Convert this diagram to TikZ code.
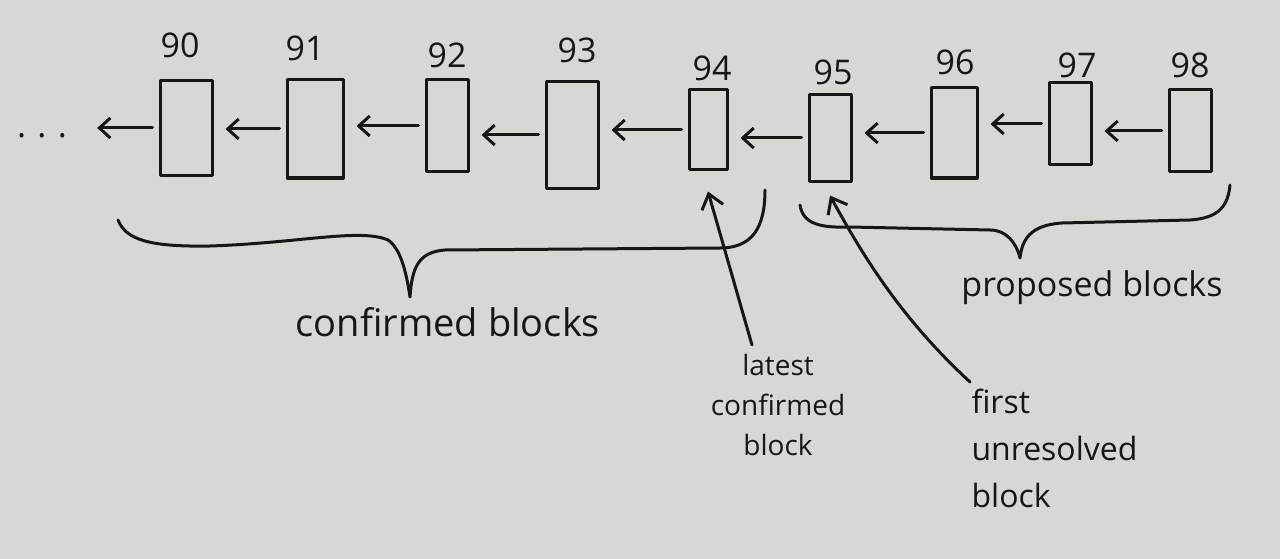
\documentclass[tikz,border=0pt]{standalone}
\usepackage{fontspec}
\setmainfont{Open Sans}
\usetikzlibrary{arrows.meta}
\definecolor{paper}{RGB}{216,215,211}
\definecolor{ink}{RGB}{22,22,22}
\begin{document}
\begin{tikzpicture}[x=1pt,y=-1pt,
  ink line/.style={draw=ink,line width=3pt,line cap=round,line join=round},
  blk/.style={ink line,rectangle,inner sep=0pt},
  num/.style={text=ink,font=\fontsize{34}{34}\selectfont},
  lbl/.style={text=ink,font=\fontsize{38}{40}\selectfont},
  small lbl/.style={text=ink,font=\fontsize{28}{40}\selectfont},
  first lbl/.style={text=ink,font=\fontsize{32}{47}\selectfont},
  link/.style={ink line,-{Straight Barb[length=11pt,width=20pt,line width=3pt]},shorten >=12pt,shorten <=6pt},
  pointer/.style={ink line,-{Straight Barb[length=14pt,width=22pt,line width=3pt]}}
]
\fill[paper] (0,0) rectangle (1280,559);
\useasboundingbox (0,0) rectangle (1280,559);

% blocks
\node[blk,minimum width=52pt,minimum height=95pt] (b90) at (186,128) {};
\node[blk,minimum width=56pt,minimum height=98pt] (b91) at (315,129) {};
\node[blk,minimum width=42pt,minimum height=92pt] (b92) at (447,126) {};
\node[blk,minimum width=52pt,minimum height=106pt] (b93) at (572,135) {};
\node[blk,minimum width=38pt,minimum height=80pt] (b94) at (708,130) {};
\node[blk,minimum width=42pt,minimum height=86pt] (b95) at (830,138) {};
\node[blk,minimum width=46pt,minimum height=90pt] (b96) at (954,133) {};
\node[blk,minimum width=42pt,minimum height=82pt] (b97) at (1070,124) {};
\node[blk,minimum width=42pt,minimum height=82pt] (b98) at (1190,131) {};

% numbers
\node[num] (n90) at (180,45) {90};
\node[num] (n91) at (305,48) {91};
\node[num] (n92) at (447,55) {92};
\node[num] (n93) at (577,50) {93};
\node[num] (n94) at (712,68) {94};
\node[num] (n95) at (833,72) {95};
\node[num] (n96) at (955,62) {96};
\node[num] (n97) at (1077,65) {97};
\node[num] (n98) at (1190,65) {98};

% dots
\node[text=ink,font=\fontsize{34}{34}\selectfont,inner sep=2pt] (dots) at (42,136) {.\,\,.\,\,.};

% chain arrows
\draw[link,shorten >=28pt] (b90.west) -- (dots.east |- b90.west);
\draw[link] (b91.west) -- (b90.east |- b91.west);
\draw[link] (b92.west) -- (b91.east |- b92.west);
\draw[link] (b93.west) -- (b92.east |- b93.west);
\draw[link] (b94.west) -- (b93.east |- b94.west);
\draw[link] (b95.west) -- (b94.east |- b95.west);
\draw[link] (b96.west) -- (b95.east |- b96.west);
\draw[link] (b97.west) -- (b96.east |- b97.west);
\draw[link] (b98.west) -- (b97.east |- b98.west);

% braces
\coordinate (ctip) at (410,297);
\draw[ink line] (118,220) .. controls (126,240) and (150,247) .. (210,246)
  .. controls (300,243) and (360,228) .. (388,240)
  .. controls (400,248) and (406,270) .. (ctip)
  .. controls (412,268) and (418,252) .. (445,250)
  -- (720,248) .. controls (752,248) and (765,228) .. (765,190);
\coordinate (ptip) at (1020,258);
\draw[ink line] (800,205) .. controls (803,224) and (820,228) .. (850,227)
  -- (990,230) .. controls (1006,230) and (1016,242) .. (ptip)
  .. controls (1022,240) and (1030,225) .. (1062,223)
  -- (1190,220) .. controls (1220,218) and (1228,205) .. (1230,185);

% labels
\node[lbl] (conf) at (448,322) {confirmed blocks};
\node[lbl,font=\fontsize{34}{38}\selectfont] (prop) at (1092,288) {proposed blocks};
\node[small lbl,align=center] (latest) at (778,405) {latest\\confirmed\\block};
\node[first lbl,align=left,anchor=north west] (first) at (968,385) {first\\unresolved\\block};

% pointers
\coordinate (lstart) at (752,345);
\draw[pointer] (lstart) -- ([yshift=-20pt]b94.south);
\coordinate (fstart) at (970,382);
\draw[pointer] (fstart) .. controls (905,322) and (866,262) .. ([yshift=-13pt]b95.south);
\end{tikzpicture}
\end{document}
